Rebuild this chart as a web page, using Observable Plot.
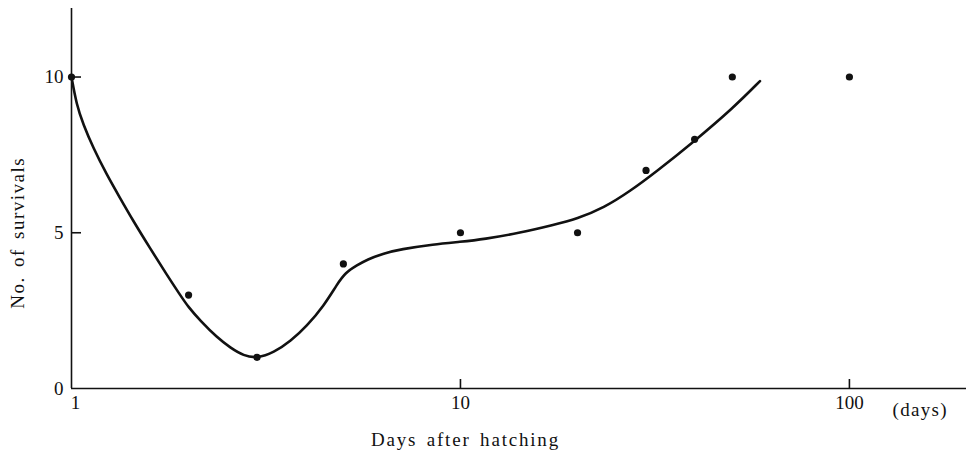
<!DOCTYPE html>
<html>
<head>
<meta charset="utf-8">
<script src="https://cdn.jsdelivr.net/npm/d3@7"></script>
<script src="https://cdn.jsdelivr.net/npm/@observablehq/plot@0.6"></script>
<style>
  html, body { margin: 0; padding: 0; background: #fff; }
  svg { font-family: "Liberation Serif", "DejaVu Serif", serif; }
</style>
</head>
<body>
<div id="chart"></div>
<script>
// Observed counts
const pointDays = [1, 2, 3, 5, 10, 20, 30, 40, 50, 100];
const pointSurvivals = [10, 3, 1, 4, 5, 5, 7, 8, 10, 10];

// Hand-drawn fitted curve
const curveDays = [1, 1.030, 1.072, 1.137, 1.230, 1.331, 1.441, 1.589, 1.754, 1.898, 1.995, 2.146, 2.37, 2.56, 2.77, 3.00, 3.31, 3.66, 4.03, 4.45, 4.82, 5.06, 5.43, 5.75, 6.35, 7.01, 8.53, 10.0, 11.47, 14.27, 17.33, 19.95, 23.36, 27.34, 32.0, 39.5, 50.3, 58.9];
const curveSurvivals = [10, 9.12, 8.48, 7.73, 6.88, 6.13, 5.38, 4.52, 3.67, 3.02, 2.62, 2.17, 1.63, 1.31, 1.05, 0.97, 1.15, 1.52, 2.01, 2.65, 3.35, 3.72, 3.96, 4.14, 4.34, 4.47, 4.63, 4.71, 4.79, 5.00, 5.25, 5.45, 5.80, 6.34, 6.98, 7.89, 9.01, 9.87];

// Axis ticks and labels
const xTickValues = [1, 10, 100];
const xInnerTicks = [10, 100];
const yTickValues = [0, 5, 10];
const yInnerTicks = [5, 10];
const xTitle = "Days after hatching";
const yTitle = "No. of survivals";
const xUnit = "(days)";

const points = pointDays.map((d, i) => ({day: d, n: pointSurvivals[i]}));
const curve = curveDays.map((d, i) => ({day: d, n: curveSurvivals[i]}));

const W = 966, H = 450, mL = 71, mR = 0, mT = 8, mB = 62;
const xDomain = [1, 200], yDomain = [0, 12.2];
const frameW = W - mL - mR, frameH = H - mT - mB;
// inward tick lengths (px) expressed in data units for the rules
const xTickLen = 9 * (yDomain[1] - yDomain[0]) / frameH;
const yTickEnd = Math.pow(10, 10 * Math.log10(xDomain[1] / xDomain[0]) / frameW);
const ink = "#111";
const chart = Plot.plot({
  width: W,
  height: H,
  marginLeft: mL,
  marginRight: mR,
  marginTop: mT,
  marginBottom: mB,
  style: {fontFamily: '"Liberation Serif", "DejaVu Serif", serif', fontSize: "19px", color: ink, background: "#fff"},
  x: {type: "log", domain: xDomain},
  y: {domain: yDomain},
  marks: [
    Plot.ruleY([0], {stroke: ink, strokeWidth: 1.6}),
    Plot.ruleX([1], {stroke: ink, strokeWidth: 1.6}),
    Plot.ruleX(xInnerTicks, {x: d => d, y1: 0, y2: xTickLen, stroke: ink, strokeWidth: 1.6}),
    Plot.ruleY(yInnerTicks, {y: d => d, x1: 1, x2: yTickEnd, stroke: ink, strokeWidth: 1.6}),
    Plot.axisX(xTickValues, {anchor: "bottom", tickSize: 0, tickPadding: 7, tickFormat: d => String(d), label: null, fill: ink, fontSize: 19}),
    Plot.axisY(yTickValues, {anchor: "left", tickSize: 0, tickPadding: 8, tickFormat: d => String(d), label: null, fill: ink, fontSize: 19}),
    Plot.line(curve, {x: "day", y: "n", curve: "basis", stroke: ink, strokeWidth: 2.6}),
    Plot.dot(points, {x: "day", y: "n", r: 3.6, fill: ink, stroke: "none"}),
    Plot.text([xTitle], {x: 10.3, frameAnchor: "bottom", dy: 57, text: d => d, fontSize: 19, fill: ink}),
    Plot.text([yTitle], {y: 5, frameAnchor: "left", textAnchor: "middle", dx: -54, rotate: -90, text: d => d, fontSize: 19, fill: ink}),
    Plot.text([xUnit], {x: 152, frameAnchor: "bottom", dy: 27, text: d => d, fontSize: 19, fill: ink})
  ]
});
document.getElementById("chart").appendChild(chart);
// letter spacing for titles
chart.querySelectorAll("text").forEach(t => {
  if (t.textContent === xTitle) {
    t.setAttribute("letter-spacing", "1.8");
    t.setAttribute("word-spacing", "3");
  }
  if (t.textContent === yTitle) {
    t.setAttribute("letter-spacing", "1.5");
    t.setAttribute("word-spacing", "3");
  }
  if (t.textContent === xUnit) t.setAttribute("letter-spacing", "1.3");
  if (t.textContent === "1" && t.closest("g[aria-label='x-axis tick label']")) t.setAttribute("dx", "4");
});
</script>
</body>
</html>
